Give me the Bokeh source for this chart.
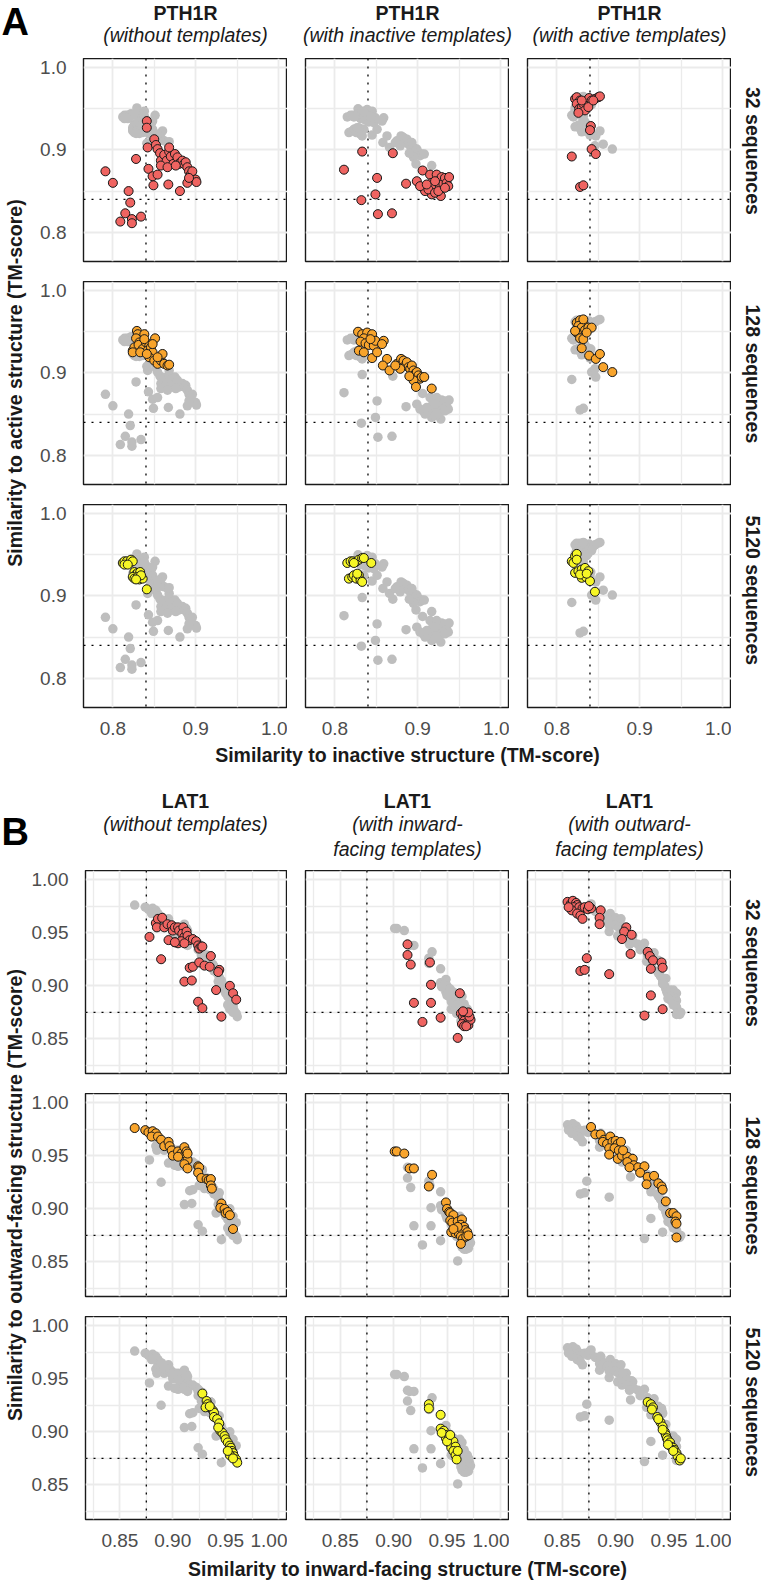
import math
from bokeh.plotting import figure
from bokeh.models import Range1d, Span, FixedTicker, Grid, LinearAxis, NumeralTickFormatter
from bokeh.layouts import column, row
from bokeh.embed import file_html
from bokeh.resources import INLINE
from bokeh.core.properties import value

FONT = "Liberation Sans"

# ---------------- DATA ----------------
# Section A: PTH1R, x = similarity to inactive, y = similarity to active
pth1r_none_32_x = [0.841,0.841,0.842,0.828,0.791,0.800,0.819,0.821,0.815,0.809,0.823,0.823,0.834,0.843,0.848,0.854,0.849,0.850,0.852,0.854,0.857,0.858,0.862,0.865,0.868,0.870,0.873,0.875,0.878,0.880,0.882,0.884,0.886,0.888,0.890,0.892,0.894,0.896,0.900,0.901,0.890,0.892,0.867,0.881,0.858,0.866,0.876,0.868]
pth1r_none_32_y = [0.935,0.927,0.903,0.889,0.874,0.860,0.850,0.836,0.823,0.813,0.816,0.811,0.819,0.877,0.868,0.870,0.857,0.913,0.906,0.901,0.896,0.887,0.894,0.887,0.898,0.892,0.883,0.895,0.891,0.883,0.885,0.887,0.883,0.885,0.879,0.874,0.870,0.874,0.864,0.861,0.860,0.866,0.858,0.850,0.881,0.879,0.881,0.903]
pth1r_none_128_x = [0.829,0.830,0.828,0.838,0.832,0.834,0.824,0.826,0.831,0.836,0.840,0.844,0.842,0.846,0.851,0.848,0.844,0.850,0.854,0.858,0.860,0.862,0.866,0.868,0.854,0.838,0.824,0.833,0.841,0.848]
pth1r_none_128_y = [0.951,0.947,0.942,0.947,0.937,0.933,0.927,0.931,0.934,0.929,0.937,0.933,0.927,0.931,0.942,0.925,0.919,0.915,0.911,0.915,0.923,0.911,0.909,0.910,0.919,0.941,0.925,0.925,0.923,0.935]
pth1r_none_5120_x = [0.812,0.814,0.817,0.820,0.822,0.824,0.814,0.818,0.826,0.828,0.830,0.833,0.824,0.826,0.830,0.832,0.836,0.834,0.828,0.841]
pth1r_none_5120_y = [0.940,0.942,0.942,0.940,0.944,0.942,0.938,0.938,0.929,0.926,0.928,0.929,0.923,0.921,0.923,0.920,0.921,0.925,0.920,0.908]

pth1r_inact_32_x = [0.870,0.886,0.899,0.906,0.915,0.917,0.919,0.923,0.925,0.927,0.929,0.931,0.933,0.935,0.937,0.938,0.928,0.917,0.907,0.909,0.913,0.921,0.925,0.903,0.911,0.933,0.921,0.869,0.811,0.833,0.832,0.851,0.849,0.852]
pth1r_inact_32_y = [0.896,0.859,0.862,0.875,0.870,0.860,0.854,0.870,0.862,0.856,0.867,0.859,0.866,0.860,0.856,0.867,0.844,0.846,0.854,0.850,0.852,0.848,0.850,0.856,0.858,0.854,0.862,0.823,0.876,0.898,0.839,0.866,0.846,0.822]
pth1r_inact_128_x = [0.828,0.833,0.839,0.845,0.835,0.831,0.837,0.841,0.847,0.829,0.835,0.845,0.851,0.849,0.843,0.859,0.857,0.863,0.858,0.866,0.875,0.880,0.881,0.883,0.885,0.887,0.889,0.891,0.893,0.895,0.897,0.899,0.901,0.903,0.905,0.908,0.895,0.898,0.917,0.879,0.890,0.873]
pth1r_inact_128_y = [0.950,0.947,0.949,0.947,0.942,0.938,0.936,0.934,0.933,0.927,0.925,0.918,0.925,0.939,0.941,0.939,0.935,0.917,0.909,0.903,0.911,0.917,0.911,0.915,0.909,0.913,0.907,0.905,0.909,0.903,0.899,0.901,0.897,0.893,0.895,0.895,0.891,0.883,0.881,0.905,0.896,0.909]
pth1r_inact_5120_x = [0.815,0.819,0.822,0.825,0.829,0.833,0.835,0.817,0.821,0.823,0.826,0.829,0.831,0.833,0.827,0.844,0.823]
pth1r_inact_5120_y = [0.940,0.942,0.942,0.941,0.944,0.946,0.946,0.921,0.923,0.925,0.921,0.925,0.919,0.917,0.927,0.940,0.940]

pth1r_act_32_x = [0.822,0.824,0.828,0.824,0.827,0.830,0.832,0.836,0.839,0.842,0.846,0.850,0.852,0.834,0.838,0.844,0.830,0.826,0.841,0.840,0.842,0.847,0.818,0.828,0.832]
pth1r_act_32_y = [0.962,0.964,0.960,0.956,0.950,0.952,0.956,0.960,0.963,0.960,0.962,0.964,0.965,0.948,0.952,0.960,0.960,0.945,0.929,0.924,0.901,0.895,0.892,0.855,0.857]
pth1r_act_128_x = [0.824,0.828,0.832,0.826,0.830,0.834,0.838,0.842,0.824,0.828,0.832,0.830,0.839,0.847,0.852,0.856,0.867,0.822,0.836,0.832]
pth1r_act_128_y = [0.961,0.964,0.961,0.957,0.955,0.952,0.955,0.955,0.949,0.942,0.941,0.930,0.921,0.917,0.923,0.907,0.901,0.951,0.949,0.965]
pth1r_act_5120_x = [0.818,0.822,0.824,0.820,0.824,0.822,0.826,0.830,0.834,0.838,0.830,0.835,0.840,0.846,0.828,0.836]
pth1r_act_5120_y = [0.942,0.948,0.951,0.940,0.944,0.928,0.930,0.932,0.934,0.930,0.922,0.923,0.918,0.905,0.926,0.927]

# Section B: LAT1, x = similarity to inward-facing, y = similarity to outward-facing
lat1_none_32_x = [0.878,0.884,0.886,0.890,0.885,0.892,0.895,0.899,0.900,0.902,0.905,0.906,0.910,0.909,0.911,0.913,0.914,0.916,0.919,0.922,0.924,0.925,0.927,0.928,0.889,0.902,0.905,0.908,0.911,0.916,0.919,0.925,0.930,0.935,0.936,0.944,0.943,0.911,0.918,0.924,0.928,0.941,0.954,0.957,0.960,0.946,0.896,0.902]
lat1_none_32_y = [0.946,0.959,0.963,0.964,0.955,0.955,0.958,0.957,0.952,0.955,0.955,0.952,0.955,0.949,0.946,0.951,0.947,0.943,0.944,0.942,0.938,0.935,0.937,0.937,0.925,0.941,0.940,0.942,0.940,0.917,0.918,0.922,0.919,0.918,0.928,0.915,0.913,0.904,0.905,0.885,0.879,0.896,0.900,0.893,0.887,0.871,0.943,0.941]
lat1_none_128_x = [0.864,0.874,0.877,0.881,0.884,0.880,0.886,0.889,0.892,0.896,0.897,0.899,0.900,0.905,0.908,0.911,0.912,0.913,0.914,0.911,0.914,0.924,0.925,0.924,0.927,0.932,0.934,0.936,0.936,0.937,0.946,0.945,0.949,0.950,0.952,0.954,0.957,0.914,0.905]
lat1_none_128_y = [0.976,0.974,0.972,0.973,0.971,0.968,0.968,0.965,0.959,0.963,0.959,0.955,0.950,0.954,0.952,0.958,0.952,0.954,0.946,0.942,0.938,0.940,0.939,0.934,0.929,0.928,0.927,0.928,0.922,0.919,0.905,0.901,0.900,0.896,0.897,0.894,0.881,0.952,0.949]
lat1_none_5120_x = [0.928,0.932,0.933,0.935,0.938,0.939,0.939,0.942,0.944,0.945,0.947,0.949,0.950,0.952,0.954,0.955,0.956,0.957,0.958,0.960,0.961,0.931,0.935,0.943,0.954,0.957,0.952]
lat1_none_5120_y = [0.936,0.929,0.926,0.923,0.920,0.918,0.914,0.912,0.908,0.901,0.899,0.896,0.893,0.890,0.887,0.885,0.882,0.880,0.877,0.874,0.871,0.923,0.924,0.904,0.878,0.875,0.882]

lat1_inw_32_x = [0.913,0.913,0.916,0.934,0.935,0.919,0.935,0.927,0.944,0.962,0.963,0.965,0.967,0.970,0.966,0.968,0.970,0.972,0.964,0.966,0.968,0.960,0.971,0.970,0.965]
lat1_inw_32_y = [0.939,0.929,0.920,0.922,0.901,0.884,0.884,0.866,0.870,0.893,0.874,0.871,0.873,0.871,0.867,0.865,0.863,0.868,0.864,0.862,0.862,0.851,0.871,0.875,0.876]
lat1_inw_128_x = [0.901,0.903,0.910,0.915,0.919,0.936,0.933,0.949,0.950,0.952,0.953,0.956,0.953,0.955,0.960,0.964,0.963,0.966,0.967,0.969,0.954,0.958,0.961,0.963,0.965,0.968,0.960,0.963,0.956,0.970]
lat1_inw_128_y = [0.954,0.954,0.952,0.938,0.938,0.932,0.921,0.906,0.900,0.897,0.896,0.894,0.889,0.887,0.888,0.890,0.885,0.883,0.880,0.878,0.878,0.877,0.877,0.874,0.872,0.874,0.883,0.867,0.881,0.875]
lat1_inw_5120_x = [0.933,0.933,0.944,0.944,0.947,0.949,0.949,0.952,0.953,0.952,0.955,0.956,0.954,0.958,0.956,0.958,0.959,0.945,0.950,0.960,0.953]
lat1_inw_5120_y = [0.926,0.922,0.916,0.903,0.901,0.897,0.894,0.896,0.893,0.890,0.888,0.891,0.885,0.886,0.882,0.878,0.874,0.899,0.891,0.882,0.897]

lat1_outw_32_x = [0.855,0.858,0.860,0.863,0.864,0.861,0.866,0.869,0.871,0.874,0.877,0.859,0.864,0.867,0.869,0.886,0.885,0.885,0.910,0.908,0.915,0.906,0.914,0.930,0.932,0.935,0.933,0.943,0.944,0.873,0.867,0.871,0.894,0.933,0.944,0.927,0.856,0.875]
lat1_outw_32_y = [0.979,0.977,0.980,0.978,0.976,0.974,0.974,0.973,0.974,0.972,0.973,0.971,0.968,0.966,0.963,0.971,0.964,0.958,0.955,0.951,0.948,0.944,0.930,0.932,0.928,0.924,0.916,0.922,0.917,0.926,0.914,0.915,0.911,0.891,0.878,0.872,0.974,0.975]
lat1_outw_128_x = [0.877,0.881,0.886,0.889,0.895,0.888,0.892,0.897,0.900,0.902,0.905,0.894,0.899,0.903,0.894,0.902,0.906,0.911,0.916,0.911,0.917,0.921,0.927,0.923,0.930,0.936,0.940,0.943,0.944,0.929,0.947,0.951,0.954,0.957,0.956,0.957,0.957,0.913,0.907]
lat1_outw_128_y = [0.977,0.970,0.970,0.965,0.968,0.963,0.961,0.963,0.964,0.961,0.963,0.957,0.957,0.955,0.951,0.947,0.950,0.949,0.947,0.944,0.941,0.939,0.940,0.934,0.930,0.931,0.924,0.921,0.918,0.923,0.907,0.896,0.896,0.893,0.888,0.886,0.873,0.939,0.955]
lat1_outw_5120_x = [0.930,0.933,0.935,0.934,0.939,0.942,0.944,0.946,0.947,0.948,0.949,0.951,0.952,0.954,0.955,0.957,0.958,0.960,0.961,0.949,0.954,0.944,0.940]
lat1_outw_5120_y = [0.928,0.926,0.923,0.921,0.914,0.909,0.905,0.900,0.897,0.894,0.892,0.890,0.886,0.885,0.883,0.880,0.877,0.873,0.875,0.888,0.882,0.902,0.912]

# Labels / ticks
row_labels = ["32 sequences", "128 sequences", "5120 sequences"]
row_colors = ["#EF6461", "#F8A42C", "#F6F626"]
gray_color = "#BEBEBE"

A_titles = ["PTH1R", "PTH1R", "PTH1R"]
A_subtitles = [["(without templates)"], ["(with inactive templates)"], ["(with active templates)"]]
A_xlabel = "Similarity to inactive structure (TM-score)"
A_ylabel = "Similarity to active structure (TM-score)"
A_ticks = [0.8, 0.9, 1.0]
A_tick_labels = ["0.8", "0.9", "1.0"]
A_minor = [0.85, 0.95]
A_ref_x = 0.84
A_ref_y = 0.84
A_range = (0.7645, 1.011)

B_titles = ["LAT1", "LAT1", "LAT1"]
B_subtitles = [["(without templates)"], ["(with inward-", "facing templates)"], ["(with outward-", "facing templates)"]]
B_xlabel = "Similarity to inward-facing structure (TM-score)"
B_ylabel = "Similarity to outward-facing structure (TM-score)"
B_ticks = [0.85, 0.90, 0.95, 1.00]
B_tick_labels = ["0.85", "0.90", "0.95", "1.00"]
B_minor = [0.825, 0.875, 0.925, 0.975]
B_ref_x = 0.875
B_ref_y = 0.875
B_range = (0.8175, 1.0085)

A_series = [
    [(pth1r_none_32_x, pth1r_none_32_y), (pth1r_none_128_x, pth1r_none_128_y), (pth1r_none_5120_x, pth1r_none_5120_y)],
    [(pth1r_inact_32_x, pth1r_inact_32_y), (pth1r_inact_128_x, pth1r_inact_128_y), (pth1r_inact_5120_x, pth1r_inact_5120_y)],
    [(pth1r_act_32_x, pth1r_act_32_y), (pth1r_act_128_x, pth1r_act_128_y), (pth1r_act_5120_x, pth1r_act_5120_y)],
]
B_series = [
    [(lat1_none_32_x, lat1_none_32_y), (lat1_none_128_x, lat1_none_128_y), (lat1_none_5120_x, lat1_none_5120_y)],
    [(lat1_inw_32_x, lat1_inw_32_y), (lat1_inw_128_x, lat1_inw_128_y), (lat1_inw_5120_x, lat1_inw_5120_y)],
    [(lat1_outw_32_x, lat1_outw_32_y), (lat1_outw_128_x, lat1_outw_128_y), (lat1_outw_5120_x, lat1_outw_5120_y)],
]

# ---------------- LAYOUT ----------------
TOTAL_W = 762
YT_W = 28           # width of the y-title strip
FRAME_W = 204
FRAME_H = 203
LEFT0 = 55          # room for y tick labels
GAPX = 18
GAPY = 20
BOTTOM_AX = 37
STRIP_W = TOTAL_W - (YT_W + LEFT0 + FRAME_W + 2 * (GAPX + FRAME_W))
COL_CENTERS = [YT_W + LEFT0 + FRAME_W / 2 + i * (GAPX + FRAME_W) for i in range(3)]
TXT = "#1A1A1A"
FS = "19.5px"


def bare(w, h):
    p = figure(width=w, height=h, x_range=Range1d(0, w), y_range=Range1d(h, 0),
               title=None, toolbar_location=None, tools="", output_backend="svg",
               x_axis_location=None, y_axis_location=None, min_border=0)
    p.outline_line_color = None
    p.xgrid.visible = False
    p.ygrid.visible = False
    p.background_fill_color = "white"
    p.border_fill_color = "white"
    return p


def add_text(p, x, y, t, size=FS, style="normal", align="center", angle=0.0, color=TXT):
    p.text(x=[x], y=[y], text=[t], text_font=value(FONT), text_font_size=size,
           text_font_style=style, text_align=align, text_baseline="middle",
           angle=angle, text_color=color)


def style_axis(ax, ticks, labels, fmt, standoff):
    ax.ticker = FixedTicker(ticks=ticks)
    ax.formatter = NumeralTickFormatter(format=fmt)
    ax.major_label_overrides = {t: l for t, l in zip(ticks, labels)}
    ax.axis_line_color = None
    ax.major_tick_line_color = None
    ax.minor_tick_line_color = None
    ax.major_tick_out = 0
    ax.major_tick_in = 0
    ax.minor_tick_out = 0
    ax.minor_tick_in = 0
    ax.major_label_text_font = FONT
    ax.major_label_text_font_size = "19px"
    ax.major_label_text_color = "#4D4D4D"
    ax.major_label_standoff = standoff


def panel(ci, ri, series, ticks, tick_labels, minor, ref_x, ref_y, rng, fmt):
    left = ci == 0
    bottom = ri == 2
    mleft = LEFT0 if left else GAPX
    mbottom = BOTTOM_AX if bottom else GAPY
    p = figure(width=mleft + FRAME_W, height=FRAME_H + mbottom,
               x_range=Range1d(*rng), y_range=Range1d(*rng),
               title=None, toolbar_location=None, tools="", output_backend="svg",
               x_axis_location=None, y_axis_location=None,
               min_border_left=mleft, min_border_right=0, min_border_top=0,
               min_border_bottom=mbottom)
    p.xgrid.visible = False
    p.ygrid.visible = False
    p.background_fill_color = "white"
    p.border_fill_color = "white"
    p.outline_line_color = "#1A1A1A"
    p.outline_line_width = 1.4
    for dim in (0, 1):
        g = Grid(dimension=dim, ticker=FixedTicker(ticks=ticks, minor_ticks=minor),
                 grid_line_color="#EBEBEB", grid_line_width=1.8,
                 minor_grid_line_color="#EBEBEB", minor_grid_line_width=1.3)
        p.add_layout(g, "center")
    p.add_layout(Span(location=ref_x, dimension="height", line_color="black",
                      line_width=1.3, line_dash="2 6", level="underlay"))
    p.add_layout(Span(location=ref_y, dimension="width", line_color="black",
                      line_width=1.3, line_dash="2 6", level="underlay"))
    col = series[ci]
    gx = [v for sx, sy in col for v in sx]
    gy = [v for sx, sy in col for v in sy]
    p.scatter(gx, gy, size=9.5, fill_color=gray_color, line_color=None)
    sx, sy = col[ri]
    p.scatter(sx, sy, size=9, fill_color=row_colors[ri], line_color="#1A1A1A", line_width=1)
    if left:
        ax = LinearAxis()
        style_axis(ax, ticks, tick_labels, fmt, 17)
        p.add_layout(ax, "left")
    if bottom:
        ax = LinearAxis()
        style_axis(ax, ticks, tick_labels, fmt, 14)
        p.add_layout(ax, "below")
    return p


def section(series, ticks, tick_labels, minor, ref_x, ref_y, rng, fmt, ylabel):
    rows = []
    for ri in range(3):
        figs = [panel(ci, ri, series, ticks, tick_labels, minor, ref_x, ref_y, rng, fmt) for ci in range(3)]
        h = FRAME_H + (BOTTOM_AX if ri == 2 else GAPY)
        s = bare(STRIP_W, h)
        add_text(s, 21, FRAME_H / 2, row_labels[ri], style="bold", angle=-math.pi / 2)
        rows.append(row(*figs, s))
    total_h = 2 * (FRAME_H + GAPY) + FRAME_H + BOTTOM_AX
    yt = bare(YT_W, total_h)
    add_text(yt, 14, (2 * (FRAME_H + GAPY) + FRAME_H) / 2, ylabel, style="bold", angle=math.pi / 2)
    return row(yt, column(*rows))


SEC_H = 2 * (FRAME_H + GAPY) + FRAME_H + BOTTOM_AX

# Header A
HA = 58
headA = bare(TOTAL_W, HA)
add_text(headA, 1, 21, "A", size="38px", style="bold", align="left", color="black")
for ci in range(3):
    add_text(headA, COL_CENTERS[ci], 12, A_titles[ci], style="bold")
    for k, line in enumerate(A_subtitles[ci]):
        add_text(headA, COL_CENTERS[ci], 34 + 25 * k, line, style="italic")

secA = section(A_series, A_ticks, A_tick_labels, A_minor, A_ref_x, A_ref_y, A_range, "0.0", A_ylabel)

# Middle: x-title A + header B
HM = 870 - HA - SEC_H
mid = bare(TOTAL_W, HM)
add_text(mid, COL_CENTERS[1], 10, A_xlabel, style="bold")
add_text(mid, 1, HM - 39, "B", size="38px", style="bold", align="left", color="black")
for ci in range(3):
    add_text(mid, COL_CENTERS[ci], HM - 70, B_titles[ci], style="bold")
    for k, line in enumerate(B_subtitles[ci]):
        add_text(mid, COL_CENTERS[ci], HM - 47 + 25 * k, line, style="italic")

secB = section(B_series, B_ticks, B_tick_labels, B_minor, B_ref_x, B_ref_y, B_range, "0.00", B_ylabel)

HB = 1580 - HA - HM - 2 * SEC_H
foot = bare(TOTAL_W, HB)
add_text(foot, COL_CENTERS[1], 12, B_xlabel, style="bold")

layout = column(headA, secA, mid, secB, foot)

open("out.html", "w").write(file_html(layout, INLINE))
